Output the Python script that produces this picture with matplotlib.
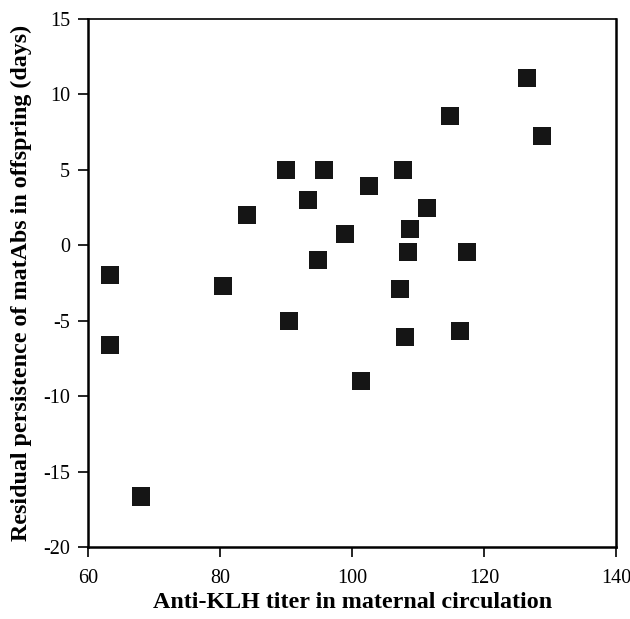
import matplotlib
matplotlib.use("Agg")
import matplotlib.pyplot as plt

# datos
titulo_x = [63.3, 63.3, 68.0, 80.5, 84.1, 90.0, 90.5, 93.3, 94.9, 95.7, 98.9, 101.3,
            102.5, 107.3, 107.7, 108.0, 108.5, 108.8, 111.3, 114.8, 116.4, 117.4,
            126.5, 128.8]
persistencia = [-2.0, -6.6, -16.65, -2.7, 2.0, 5.0, -5.0, 3.0, -1.0, 5.0, 0.75, -9.0,
                3.9, -2.9, 5.0, -6.05, -0.46, 1.1, 2.5, 8.6, -5.7, -0.46,
                11.07, 7.24]
ticks_x = [60, 80, 100, 120, 140]
ticks_y = [-20, -15, -10, -5, 0, 5, 10, 15]

plt.rcParams['font.family'] = ['Liberation Serif', 'DejaVu Serif']
plt.rcParams['axes.unicode_minus'] = False

fig = plt.figure(figsize=(6.3, 6.19), dpi=100)
ax = fig.add_axes([0.1397, 0.1163, 0.978 - 0.1397, 0.9693 - 0.1163])

ax.scatter(titulo_x, persistencia, marker='s', s=13 ** 2, color='#151515',
           edgecolors='none', zorder=3)

ax.set_xlim(60, 140)
ax.set_ylim(-20, 15)
ax.set_xticks(ticks_x)
ax.set_yticks(ticks_y)
ax.tick_params(direction='out', length=7, width=1.2, labelsize=14.5, pad=6,
               top=False, right=False)
ax.tick_params(axis='x', pad=9)

for lado in ['left', 'bottom', 'right']:
    ax.spines[lado].set_linewidth(1.8)
ax.spines['top'].set_linewidth(1.2)

ax.set_xlabel("Anti-KLH titer in maternal circulation", fontsize=17.3,
              fontweight='bold', labelpad=3)
ax.set_ylabel("Residual persistence of matAbs in offspring (days)", fontsize=17.3,
              fontweight='bold', labelpad=8)

plt.savefig("out.png", dpi=100)
plt.close()
